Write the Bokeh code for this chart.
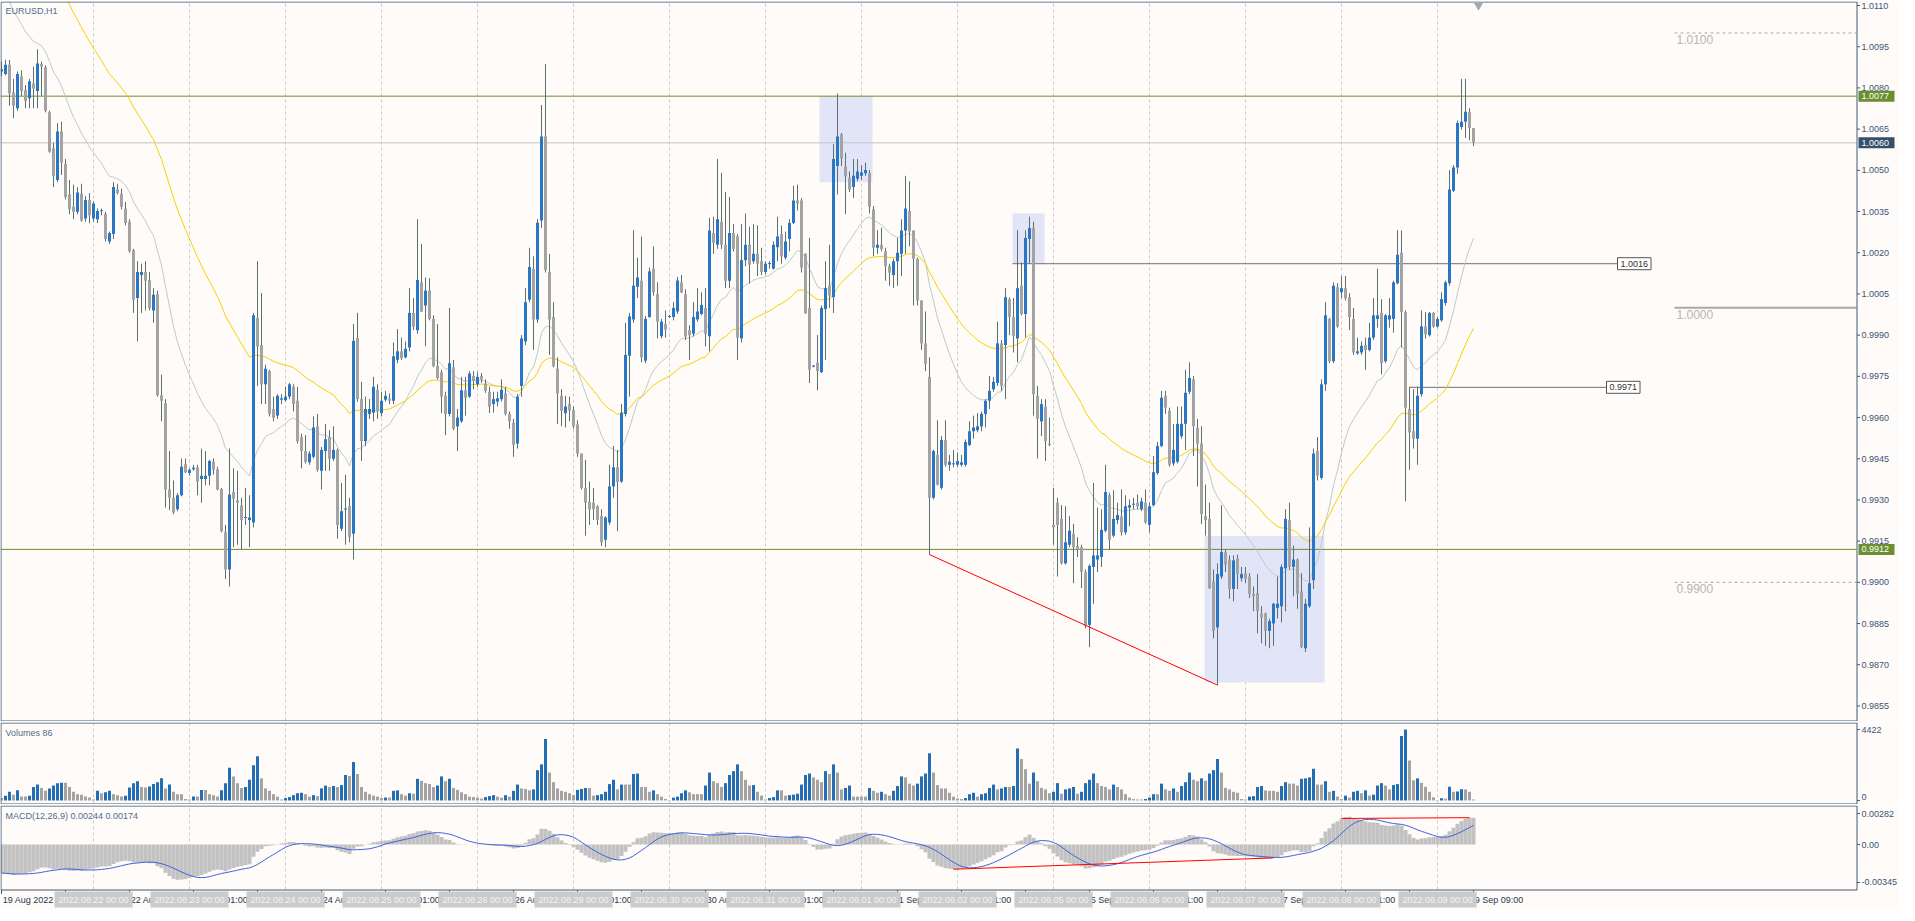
import numpy as np
import pandas as pd
from bokeh.plotting import figure
from bokeh.layouts import column
from bokeh.models import Range1d, Label
from bokeh.embed import file_html
from bokeh.resources import INLINE
from bokeh.core.properties import value

# ---------------- data (EURUSD H1) ----------------
opens = [1.00860,1.00851,1.00884,1.00783,1.00726,1.00842,1.00792,1.00762,1.00816,1.00789,1.00887,1.00875,1.00711,1.00580,1.00465,1.00641,1.00523,1.00412,1.00367,1.00349,1.00415,1.00325,1.00392,1.00325,1.00322,1.00351,1.00342,1.00241,1.00268,1.00430,1.00415,1.00361,1.00313,1.00209,1.00035,1.00119,1.00130,1.00101,0.99990,1.00049,0.99681,0.99652,0.99338,0.99308,0.99266,0.99317,0.99430,0.99398,0.99412,0.99419,0.99376,0.99376,0.99388,0.99439,0.99412,0.99340,0.99182,0.99047,0.99329,0.99299,0.99281,0.99234,0.99227,0.99218,0.99963,0.99864,0.99721,0.99769,0.99631,0.99607,0.99665,0.99663,0.99676,0.99712,
0.99661,0.99529,0.99478,0.99437,0.99457,0.99568,0.99406,0.99478,0.99529,0.99450,0.99482,0.99195,0.99266,0.99277,0.99177,0.99889,0.99667,0.99514,0.99613,0.99618,0.99701,0.99616,0.99665,0.99669,0.99661,0.99810,0.99841,0.99819,0.99855,0.99981,0.99918,1.00092,1.00008,1.00062,0.99959,0.99787,0.99765,0.99679,0.99613,0.99783,0.99568,0.99586,0.99699,0.99676,0.99751,0.99721,0.99751,0.99724,0.99694,0.99649,0.99658,0.99667,0.99688,0.99613,0.99581,0.99505,0.99715,0.99877,1.00029,1.00142,0.99957,1.00317,1.00623,1.00130,0.99966,0.99778,0.99679,0.99616,0.99649,0.99627,0.99575,0.99469,0.99344,0.99293,
0.99290,0.99277,0.99241,0.99155,0.99218,0.99349,0.99419,0.99367,0.99613,0.99825,0.99957,1.00076,1.00098,0.99807,0.99966,1.00142,1.00049,0.99896,0.99940,0.99966,0.99966,0.99986,1.00092,1.00049,0.99918,0.99905,0.99957,0.99977,0.99999,0.99896,1.00272,1.00229,1.00313,1.00229,1.00098,1.00272,1.00259,0.99888,1.00173,1.00229,1.00169,1.00196,1.00169,1.00130,1.00159,1.00142,1.00220,1.00268,1.00182,1.00250,1.00308,1.00390,1.00390,1.00196,0.99999,0.99785,0.99800,0.99765,0.99995,1.00080,1.00038,1.00516,1.00631,1.00514,1.00471,1.00439,1.00469,1.00480,1.00489,1.00489,1.00358,1.00218,1.00229,1.00205,
1.00151,1.00119,1.00169,1.00196,1.00281,1.00352,1.00281,1.00178,1.00026,0.99870,0.99748,0.99308,0.99464,0.99344,0.99518,0.99428,0.99430,0.99428,0.99428,0.99428,0.99500,0.99550,0.99554,0.99568,0.99613,0.99661,0.99703,0.99726,0.99870,0.99864,1.00031,0.99966,0.99888,1.00080,0.99977,1.00250,1.00290,0.99679,0.99586,0.99640,0.99505,0.99209,0.99290,0.99231,0.99069,0.99137,0.99177,0.99132,0.99128,0.99038,0.98845,0.99056,0.99083,0.99092,0.99188,0.99317,0.99170,0.99227,0.99240,0.99182,0.99272,0.99283,0.99290,0.99266,0.99290,0.99209,0.99281,0.99398,0.99496,0.99679,0.99625,0.99433,0.99439,0.99532,
0.99577,0.99694,0.99739,0.99563,0.99505,0.99241,0.99231,0.99003,0.98836,0.99021,0.99110,0.99083,0.98976,0.99087,0.99015,0.99033,0.99021,0.98958,0.98961,0.98886,0.98886,0.98823,0.98850,0.98907,0.98913,0.99051,0.99227,0.99056,0.99083,0.98967,0.98760,0.98913,0.99008,0.99478,0.99380,0.99721,0.99959,0.99805,1.00074,1.00056,1.00071,1.00038,0.99959,0.99834,0.99837,0.99864,0.99846,0.99891,0.99959,0.99981,0.99805,0.99957,0.99959,1.00089,1.00200,0.99984,0.99631,0.99550,0.99523,0.99685,0.99932,0.99900,0.99981,0.99931,0.99954,1.00017,1.00089,1.00426,1.00510,1.00658,1.00677,1.00711,1.00654]

highs = [1.00896,1.00902,1.00902,1.00833,1.00860,1.00864,1.00810,1.00833,1.00878,1.00941,1.00896,1.00882,1.00717,1.00600,1.00672,1.00677,1.00541,1.00465,1.00448,1.00439,1.00451,1.00406,1.00417,1.00388,1.00361,1.00361,1.00349,1.00277,1.00457,1.00451,1.00433,1.00385,1.00322,1.00214,1.00169,1.00160,1.00169,1.00130,1.00071,1.00062,0.99756,0.99667,0.99478,0.99371,0.99326,0.99451,0.99451,0.99415,0.99428,0.99428,0.99487,0.99478,0.99446,0.99451,0.99421,0.99344,0.99209,0.99487,0.99415,0.99406,0.99308,0.99344,0.99317,0.99981,1.00169,1.00053,0.99792,0.99774,0.99676,0.99685,0.99685,0.99712,0.99726,0.99721,
0.99712,0.99541,0.99536,0.99478,0.99604,0.99613,0.99493,0.99577,0.99554,0.99568,0.99487,0.99362,0.99392,0.99308,0.99940,0.99981,0.99730,0.99676,0.99667,0.99748,0.99721,0.99694,0.99697,0.99688,0.99873,0.99922,0.99891,0.99877,1.00071,1.00035,1.00322,1.00232,1.00110,1.00107,0.99972,0.99940,0.99774,0.99694,0.99999,0.99810,0.99631,0.99748,0.99748,0.99769,0.99769,0.99765,0.99762,0.99739,0.99712,0.99694,0.99694,0.99739,0.99712,0.99622,0.99595,0.99685,0.99900,1.00071,1.00218,1.00187,1.00322,1.00738,1.00887,1.00196,1.00020,0.99819,0.99703,0.99679,0.99676,0.99640,0.99590,0.99469,0.99446,0.99367,
0.99344,0.99281,0.99266,0.99241,0.99428,0.99496,0.99482,0.99649,0.99945,0.99981,1.00282,1.00182,1.00259,0.99970,1.00146,1.00223,1.00092,0.99959,0.99990,0.99974,1.00020,1.00112,1.00119,1.00067,0.99936,1.00020,1.00071,1.00056,1.00071,1.00327,1.00331,1.00541,1.00491,1.00421,1.00403,1.00304,1.00268,1.00304,1.00343,1.00295,1.00304,1.00300,1.00218,1.00169,1.00169,1.00241,1.00331,1.00299,1.00277,1.00322,1.00444,1.00448,1.00399,1.00198,1.00254,0.99791,0.99900,1.00008,1.00169,1.00229,1.00595,1.00780,1.00636,1.00564,1.00496,1.00541,1.00541,1.00519,1.00528,1.00501,1.00370,1.00282,1.00291,1.00218,
1.00160,1.00178,1.00254,1.00322,1.00480,1.00460,1.00282,1.00182,1.00026,0.99986,0.99819,0.99482,0.99590,0.99532,0.99590,0.99464,0.99482,0.99473,0.99464,0.99520,0.99586,0.99607,0.99616,0.99622,0.99667,0.99751,0.99748,0.99949,0.99882,1.00071,1.00038,1.00035,1.00282,1.00164,1.00281,1.00331,1.00313,0.99715,0.99667,0.99667,0.99600,0.99344,0.99308,0.99281,0.99277,0.99241,0.99213,0.99164,0.99137,0.99047,0.99065,0.99362,0.99272,0.99266,0.99428,0.99326,0.99335,0.99290,0.99338,0.99317,0.99302,0.99308,0.99320,0.99308,0.99338,0.99290,0.99460,0.99511,0.99697,0.99697,0.99636,0.99577,0.99640,0.99640,
0.99774,0.99801,0.99751,0.99595,0.99568,0.99356,0.99290,0.99047,0.99069,0.99281,0.99119,0.99098,0.99098,0.99101,0.99056,0.99056,0.99033,0.98985,0.99030,0.98913,0.98890,0.98868,0.98925,0.99021,0.99065,0.99266,0.99290,0.99134,0.99087,0.99033,0.98940,0.99200,0.99487,0.99529,0.99739,1.00020,0.99963,1.00092,1.00089,1.00115,1.00115,1.00053,0.99999,0.99891,0.99877,0.99891,0.99945,1.00035,1.00142,1.00031,0.99977,1.00035,1.00098,1.00282,1.00281,0.99990,0.99712,0.99703,0.99712,0.99990,0.99984,0.99984,0.99984,0.99966,1.00056,1.00098,1.00501,1.00519,1.00681,1.00833,1.00833,1.00726,1.00654]

lows = [1.00842,1.00846,1.00735,1.00690,1.00717,1.00771,1.00726,1.00726,1.00726,1.00726,1.00771,1.00711,1.00564,1.00439,1.00457,1.00483,1.00394,1.00340,1.00322,1.00340,1.00313,1.00313,1.00308,1.00313,1.00308,1.00336,1.00241,1.00232,1.00250,1.00412,1.00358,1.00300,1.00200,0.99981,0.99877,0.99981,0.99990,0.99990,0.99945,0.99676,0.99586,0.99272,0.99263,0.99248,0.99259,0.99313,0.99398,0.99388,0.99406,0.99317,0.99290,0.99353,0.99353,0.99392,0.99335,0.99182,0.99012,0.98985,0.99128,0.99137,0.99119,0.99209,0.99128,0.99200,0.99715,0.99649,0.99649,0.99604,0.99586,0.99595,0.99649,0.99658,0.99667,0.99622,
0.99505,0.99415,0.99433,0.99428,0.99451,0.99403,0.99338,0.99406,0.99406,0.99442,0.99159,0.99187,0.99137,0.99146,0.99083,0.99658,0.99442,0.99496,0.99595,0.99586,0.99595,0.99604,0.99658,0.99649,0.99649,0.99798,0.99810,0.99816,0.99841,0.99918,0.99905,0.99984,0.99859,0.99954,0.99783,0.99739,0.99616,0.99536,0.99604,0.99554,0.99478,0.99581,0.99607,0.99672,0.99703,0.99712,0.99726,0.99690,0.99616,0.99618,0.99640,0.99658,0.99607,0.99559,0.99457,0.99487,0.99676,0.99864,1.00020,0.99846,0.99945,1.00290,1.00128,0.99828,0.99783,0.99577,0.99568,0.99564,0.99586,0.99559,0.99457,0.99338,0.99170,0.99209,
0.99227,0.99209,0.99132,0.99128,0.99209,0.99308,0.99186,0.99362,0.99604,0.99676,0.99945,1.00035,0.99801,0.99798,0.99963,1.00044,0.99888,0.99888,0.99891,0.99963,0.99954,0.99977,1.00053,0.99882,0.99810,0.99895,0.99949,0.99972,0.99859,0.99841,1.00196,1.00214,1.00214,1.00071,1.00071,1.00205,0.99810,0.99873,1.00151,1.00088,1.00160,1.00115,1.00119,1.00121,1.00142,1.00139,1.00169,1.00160,1.00175,1.00205,1.00304,1.00354,1.00128,0.99977,0.99726,0.99783,0.99699,0.99762,0.99810,0.99999,0.99981,1.00412,1.00516,1.00340,1.00421,1.00399,1.00460,1.00465,1.00480,1.00343,1.00187,1.00196,1.00205,1.00098,
1.00080,1.00071,1.00080,1.00115,1.00196,1.00223,1.00008,1.00008,0.99846,0.99769,0.99101,0.99302,0.99353,0.99338,0.99421,0.99406,0.99419,0.99421,0.99421,0.99421,0.99496,0.99523,0.99546,0.99550,0.99564,0.99631,0.99694,0.99715,0.99697,0.99667,0.99900,0.99837,0.99801,0.99972,0.99891,1.00160,0.99607,0.99451,0.99532,0.99442,0.99496,0.99137,0.99021,0.99065,0.99065,0.99128,0.98997,0.99092,0.98979,0.98832,0.98764,0.98922,0.99038,0.99056,0.99182,0.99119,0.99164,0.99213,0.99170,0.99173,0.99204,0.99266,0.99266,0.99259,0.99213,0.99182,0.99277,0.99392,0.99493,0.99613,0.99421,0.99424,0.99433,0.99523,
0.99482,0.99685,0.99460,0.99349,0.99213,0.99170,0.98976,0.98796,0.98626,0.99012,0.99038,0.98940,0.98931,0.98976,0.99003,0.98997,0.98943,0.98895,0.98814,0.98778,0.98769,0.98760,0.98769,0.98868,0.98854,0.98895,0.99047,0.98949,0.98904,0.98760,0.98746,0.98907,0.98976,0.99371,0.99374,0.99697,0.99798,0.99798,0.99927,1.00035,1.00026,0.99918,0.99828,0.99828,0.99828,0.99774,0.99841,0.99882,0.99927,0.99757,0.99798,0.99927,0.99909,1.00085,0.99855,0.99295,0.99410,0.99487,0.99428,0.99676,0.99888,0.99895,0.99927,0.99927,0.99949,1.00008,1.00080,1.00421,1.00487,1.00649,1.00618,1.00609,1.00588]

closes = [1.00868,1.00884,1.00780,1.00735,1.00851,1.00789,1.00753,1.00824,1.00798,1.00889,1.00878,1.00717,1.00568,1.00478,1.00641,1.00528,1.00403,1.00358,1.00349,1.00419,1.00317,1.00392,1.00336,1.00379,1.00352,1.00354,1.00250,1.00272,1.00439,1.00417,1.00367,1.00308,1.00205,1.00029,1.00130,1.00130,1.00098,0.99999,1.00047,0.99681,0.99661,0.99338,0.99308,0.99254,0.99317,0.99421,0.99401,0.99410,0.99417,0.99367,0.99388,0.99388,0.99442,0.99410,0.99338,0.99186,0.99047,0.99320,0.99304,0.99290,0.99227,0.99238,0.99236,0.99972,0.99859,0.99721,0.99778,0.99613,0.99599,0.99679,0.99670,0.99676,0.99721,0.99649,
0.99514,0.99478,0.99439,0.99469,0.99564,0.99410,0.99482,0.99521,0.99450,0.99482,0.99209,0.99259,0.99268,0.99166,0.99879,0.99667,0.99514,0.99631,0.99631,0.99712,0.99622,0.99661,0.99679,0.99661,0.99823,0.99841,0.99816,0.99850,0.99981,0.99931,1.00101,0.99986,1.00062,0.99959,0.99787,0.99744,0.99676,0.99613,0.99798,0.99559,0.99600,0.99699,0.99672,0.99760,0.99733,0.99748,0.99739,0.99697,0.99640,0.99667,0.99670,0.99701,0.99613,0.99586,0.99500,0.99676,0.99888,1.00020,1.00148,0.99957,1.00309,1.00623,1.00137,0.99957,0.99787,0.99688,0.99625,0.99640,0.99625,0.99568,0.99469,0.99344,0.99290,0.99266,
0.99266,0.99227,0.99146,0.99236,0.99349,0.99419,0.99365,0.99618,0.99828,0.99968,1.00080,1.00110,0.99819,0.99959,1.00132,1.00056,0.99949,0.99949,0.99920,0.99970,0.99999,1.00099,1.00056,0.99895,0.99900,0.99966,0.99986,1.00010,0.99905,1.00281,1.00236,1.00322,1.00229,1.00098,1.00272,1.00214,0.99891,1.00173,1.00229,1.00157,1.00196,1.00160,1.00130,1.00160,1.00162,1.00229,1.00259,1.00187,1.00241,1.00308,1.00390,1.00379,1.00146,0.99981,0.99774,0.99789,0.99769,0.99999,1.00071,1.00044,1.00541,1.00623,1.00543,1.00478,1.00430,1.00480,1.00496,1.00492,1.00501,1.00367,1.00218,1.00229,1.00214,1.00151,
1.00128,1.00169,1.00200,1.00281,1.00361,1.00277,1.00178,1.00026,0.99870,0.99796,0.99308,0.99478,0.99356,0.99518,0.99428,0.99439,0.99433,0.99441,0.99437,0.99511,0.99550,0.99564,0.99568,0.99613,0.99661,0.99697,0.99730,0.99870,0.99715,1.00038,0.99966,0.99896,1.00071,0.99977,1.00254,1.00290,0.99685,0.99595,0.99649,0.99514,0.99500,0.99200,0.99209,0.99069,0.99146,0.99188,0.99128,0.99119,0.99038,0.98841,0.99060,0.99098,0.99098,0.99191,0.99329,0.99155,0.99231,0.99245,0.99182,0.99277,0.99281,0.99286,0.99277,0.99295,0.99218,0.99277,0.99401,0.99496,0.99672,0.99636,0.99428,0.99482,0.99577,0.99577,
0.99690,0.99744,0.99568,0.99505,0.99249,0.99227,0.98979,0.98823,0.99030,0.99110,0.99065,0.98976,0.99080,0.99030,0.99030,0.99012,0.98958,0.98949,0.98895,0.98872,0.98823,0.98859,0.98922,0.98922,0.99056,0.99231,0.99056,0.99083,0.98958,0.98764,0.98922,0.98997,0.99469,0.99389,0.99721,0.99972,0.99805,1.00080,0.99931,1.00071,1.00035,0.99966,0.99837,0.99841,0.99861,0.99846,0.99891,0.99972,0.99972,0.99798,0.99972,0.99972,1.00092,1.00193,0.99984,0.99636,0.99546,0.99523,0.99679,0.99932,0.99904,0.99981,0.99931,0.99959,1.00031,1.00092,1.00430,1.00510,1.00672,1.00677,1.00713,1.00654,1.00600]

volumes = [150,300,540,360,630,240,240,300,840,990,780,600,750,930,1080,1110,1110,840,540,390,360,240,180,60,600,450,510,600,390,330,240,300,810,1080,1200,840,810,870,1020,1140,1380,750,990,540,390,390,90,60,240,240,660,660,390,330,240,630,1080,2040,1500,1080,780,840,1290,2190,2760,1380,750,600,390,240,60,150,210,330,
450,480,390,240,330,270,750,930,840,900,840,960,1590,1530,2400,1650,840,540,390,300,240,150,180,180,600,630,390,300,450,420,1350,1230,1080,1020,840,930,1500,1200,1350,780,660,510,390,240,210,180,120,210,270,330,240,180,330,240,600,990,750,720,630,690,1890,2250,3840,1740,1140,750,600,540,450,330,660,720,780,780,
300,330,390,540,1020,1290,690,990,990,990,1650,1680,840,840,540,630,390,240,90,30,180,240,450,630,510,390,390,390,930,1740,1200,1080,840,1080,1590,1830,2250,1830,1290,930,960,540,300,60,150,210,630,630,300,330,360,420,990,1590,1680,1440,1290,1140,1830,1650,2250,1740,690,780,930,240,240,240,240,780,600,480,540,390,
300,600,900,1500,1440,1050,930,1050,1500,1680,2940,1740,960,750,750,480,240,120,90,150,390,480,240,390,450,780,990,690,750,840,840,900,3240,2580,1950,1050,1740,1200,780,690,450,540,1080,420,690,750,840,420,540,1080,1290,1680,1080,900,840,690,990,840,690,390,180,90,60,60,90,180,390,390,1050,690,600,750,540,900,
1140,1740,1290,1200,1380,1230,1680,1890,2580,1740,780,690,540,480,90,60,240,270,840,900,630,600,600,540,900,1140,1050,1050,930,1350,1380,1440,1980,990,990,1200,540,600,240,90,300,180,540,600,450,630,300,360,930,1080,930,690,960,1020,4025,4422,2494,1255,1375,1094,855,538,197,30,140,110,855,540,560,700,690,540,60]

trading_days = ["2022.08.22", "2022.08.23", "2022.08.24", "2022.08.25", "2022.08.26",
                "2022.08.29", "2022.08.30", "2022.08.31", "2022.09.01", "2022.09.02",
                "2022.09.05", "2022.09.06", "2022.09.07", "2022.09.08", "2022.09.09"]
first_day_bars = 23          # bars of 19 Aug shown before 22 Aug 00:00
bars_per_day = 24

price_ticks = [0.9855, 0.9870, 0.9885, 0.9900, 0.9915, 0.9930, 0.9945, 0.9960, 0.9975,
               0.9990, 1.0005, 1.0020, 1.0035, 1.0050, 1.0065, 1.0080, 1.0095, 1.0110]
volume_ticks = [4422, 0]
volume_tick_labels = ["4422", "0"]
macd_ticks = [0.00282, 0.0, -0.00345]
macd_tick_labels = ["0.00282", "0.00", "-0.00345"]
time_tick_bars = [0, 16, 32, 48, 64, 80, 96, 112, 128, 144, 160, 176, 192, 208, 224, 240,
                  256, 272, 288, 304, 320, 336, 352, 368]
time_tick_labels = ["19 Aug 2022", "19 Aug 17:00", "22 Aug 09:00", "23 Aug 01:00", "23 Aug 17:00",
                    "24 Aug 09:00", "25 Aug 01:00", "25 Aug 17:00", "26 Aug 09:00", "29 Aug 01:00",
                    "29 Aug 17:00", "30 Aug 09:00", "31 Aug 01:00", "31 Aug 17:00", "1 Sep 09:00",
                    "2 Sep 01:00", "2 Sep 17:00", "5 Sep 09:00", "6 Sep 01:00", "6 Sep 17:00",
                    "7 Sep 09:00", "8 Sep 01:00", "8 Sep 17:00", "9 Sep 09:00"]

# levels / drawings
support_resistance = [1.0077, 0.9912]
last_price = 1.0060
seg_levels = [1.0016, 0.9971]
seg_start_bar = [252.75, 352.0]
seg_end_bar = [404.0, 401.25]
round_levels = [1.0100, 1.0000, 0.9900]
round_dashed = [True, False, True]
round_start_bar = 418.25
boxes_left = [204.5, 252.75, 300.75]
boxes_right = [217.75, 260.75, 330.75]
boxes_bottom = [1.00457, 1.00160, 0.98635]
boxes_top = [1.00769, 1.00343, 0.99169]
price_trend_bars = [232, 304]
macd_low_bars = [238, 318]
macd_high_bars = [335, 367]
macd_legend_values = [0.00244, 0.00174]

# indicator start values (at first bar)
ema_fast_start, ema_slow_start = 1.0121, 1.0155     # EMA20 (grey) / EMA50 (yellow)
macd_ema12_start, macd_ema26_start = 1.0122, 1.0147

# ---------------- derived ----------------
o = np.array(opens); h = np.array(highs); l = np.array(lows); c = np.array(closes)
v = np.array(volumes, dtype=float)
n = len(c)
idx = np.arange(n)


def ema(vals, period, start):
    a = 2.0 / (period + 1.0)
    out = np.empty(len(vals))
    prev = start
    for k, x in enumerate(vals):
        prev = prev + a * (x - prev)
        out[k] = prev
    return out


ema20 = ema(c, 20, ema_fast_start)
ema50 = ema(c, 50, ema_slow_start)
macd = ema(c, 12, macd_ema12_start) - ema(c, 26, macd_ema26_start)
signal = pd.Series(macd).rolling(9, min_periods=1).mean().values

# ---------------- style / layout ----------------
BG = "#fffbf9"
FRAME = "#3f5a74"
AX_TXT = "#3a5676"
BULL = "#2a76c6"
BEAR = "#a3a3a3"
WICK = "#5b7070"
VOL_UP = "#226db3"
FONT = "Liberation Sans"
FS = "9px"

FULL_W = 1899
CHART_W = 1856
MAIN_H, VOL_H, MACD_H, STRIP_H = 718, 80, 83, 20
x_lo = -0.25
x_edge = x_lo + CHART_W / 4.0
x_hi = x_lo + FULL_W / 4.0
xr = Range1d(x_lo, x_hi)
lab_dx = 1.25   # 5 px right of the axis line

p_lo, p_hi = 0.98497, 1.01111
v_lo, v_hi = -190.0, 4801.0
m_lo, m_hi = -0.00409, 0.00346
day_x = [first_day_bars + bars_per_day * d for d in range(len(trading_days))]


def make_panel(content_h, y0, y1, extra_px=0, gap=0):
    px = (y1 - y0) / content_h
    p = figure(frame_width=FULL_W, frame_height=content_h + 2 + extra_px,
               x_range=xr, y_range=Range1d(y0 - px * (1 + extra_px), y1 + px),
               x_axis_location=None, y_axis_location=None,
               output_backend="svg", toolbar_location=None,
               min_border_left=0, min_border_right=0, min_border_top=gap, min_border_bottom=0,
               background_fill_color=BG, border_fill_color=BG, outline_line_color=None)
    p.grid.visible = False
    p.segment(x0=day_x, y0=[y0] * len(day_x), x1=day_x, y1=[y1] * len(day_x),
              line_color="#cacaca", line_dash="3 3", line_width=1)
    return p, px


def frame_and_axis(p, y0, y1, px, ticks, labels, bottom_label_up=False):
    yt = y1 + 0.5 * px
    yb = y0 - 0.5 * px
    xl = x_lo + 0.125
    xe = x_edge + 0.125
    p.segment(x0=[xl, xe, xl, xl], y0=[yb, yb, yt, yb], x1=[xl, xe, xe, xe], y1=[yt, yt, yt, yb],
              line_color=FRAME, line_width=1)
    p.segment(x0=[xe] * len(ticks), y0=ticks, x1=[xe + 0.75] * len(ticks), y1=ticks,
              line_color=FRAME, line_width=1)
    k = len(ticks) - 1 if bottom_label_up else len(ticks)
    p.text(x=[x_edge + lab_dx] * k, y=ticks[:k], text=labels[:k],
           text_font=value(FONT), text_font_size=FS, text_color=AX_TXT,
           text_baseline="middle", text_align="left")
    if bottom_label_up:
        p.text(x=[x_edge + lab_dx], y=[ticks[-1]], text=[labels[-1]],
               text_font=value(FONT), text_font_size=FS, text_color=AX_TXT,
               text_baseline="bottom", text_align="left")


# ---------------- main price panel ----------------
pm, px_p = make_panel(MAIN_H, p_lo, p_hi, gap=1)

pm.quad(left=boxes_left, right=boxes_right, bottom=boxes_bottom, top=boxes_top,
        fill_color="#e2e5f8", line_color=None)
pm.segment(x0=[x_lo] * 2, y0=support_resistance, x1=[x_edge] * 2, y1=support_resistance,
           line_color="#6b8e2f", line_width=1)
pm.segment(x0=[x_lo], y0=[last_price], x1=[x_edge], y1=[last_price], line_color="#c4c4c4", line_width=1)

pm.segment(x0=seg_start_bar, y0=seg_levels, x1=seg_end_bar, y1=seg_levels, line_color="#707070", line_width=1)
for lv, dashed in zip(round_levels, round_dashed):
    pm.segment(x0=[round_start_bar], y0=[lv], x1=[x_edge], y1=[lv], line_color="#a9a9a9",
               line_width=(1 if dashed else 2), line_dash=("3 3" if dashed else "solid"))
    pm.text(x=[round_start_bar + 0.5], y=[lv - 2 * px_p], text=["%.4f" % lv],
            text_font=value(FONT), text_font_size="12px", text_color="#b5b5b5",
            text_baseline="top", text_align="left")

pm.line(idx, ema20, line_color="#b9cccc", line_width=1)
pm.line(idx, ema50, line_color="#f7d000", line_width=1)

pm.segment(x0=idx, y0=h, x1=idx, y1=l, line_color=WICK, line_width=1)
body_top = np.maximum(o, c)
body_bot = np.minimum(o, c)
thin = (body_top - body_bot) < px_p
mid = (body_top + body_bot) / 2
body_top = np.where(thin, mid + px_p / 2, body_top)
body_bot = np.where(thin, mid - px_p / 2, body_bot)
candle_col = np.where(c >= o, BULL, BEAR)
pm.vbar(x=idx, width=0.75, top=body_top, bottom=body_bot, fill_color=list(candle_col), line_color=None)

pm.segment(x0=[price_trend_bars[0]], y0=[l[price_trend_bars[0]]], x1=[price_trend_bars[1]],
           y1=[l[price_trend_bars[1]]], line_color="#ff0000", line_width=1)

for lv, e in zip(seg_levels, seg_end_bar):
    pm.add_layout(Label(x=e, y=lv, text="%.4f" % lv, text_font=FONT, text_font_size=FS,
                        text_color="#333333", text_baseline="middle", text_align="left",
                        background_fill_color="#ffffff", border_line_color="#555555", padding=3))

pm.scatter(x=[n + 0.25], y=[p_hi - 3 * px_p], marker="inverted_triangle", size=9,
           fill_color="#a8a8a8", line_color=None)

pm.add_layout(Label(x=x_lo + 1.25, y=p_hi - 3 * px_p, text="EURUSD,H1", text_font=FONT,
                    text_font_size=FS, text_color="#4f6d8c", text_baseline="top"))

frame_and_axis(pm, p_lo, p_hi, px_p, price_ticks, ["%.4f" % t for t in price_ticks])

tag_levels = [support_resistance[0], last_price, support_resistance[1]]
tag_colors = ["#6b8e2f", "#34506c", "#6b8e2f"]
pm.rect(x=[x_edge + 5.0] * 3, y=tag_levels, width=9.0, height=11 * px_p, fill_color=tag_colors,
        line_color=None)
pm.text(x=[x_edge + lab_dx] * 3, y=tag_levels, text=["%.4f" % t for t in tag_levels],
        text_font=value(FONT), text_font_size=FS, text_color="#ffffff",
        text_baseline="middle", text_align="left")

# ---------------- volume panel ----------------
pv, px_v = make_panel(VOL_H, v_lo, v_hi, gap=1)
vol_col = [BEAR] + [VOL_UP if v[k] > v[k - 1] else BEAR for k in range(1, n)]
pv.vbar(x=idx, width=0.75, top=v, bottom=0, fill_color=vol_col, line_color=None)
pv.add_layout(Label(x=x_lo + 1.25, y=v_hi - 4 * px_v, text="Volumes 86", text_font=FONT,
                    text_font_size=FS, text_color="#4f6d8c", text_baseline="top"))
frame_and_axis(pv, v_lo, v_hi, px_v, volume_ticks, volume_tick_labels, bottom_label_up=True)

# ---------------- MACD panel (with time strip below) ----------------
pc, px_m = make_panel(MACD_H, m_lo, m_hi, extra_px=STRIP_H, gap=1)
pc.vbar(x=idx, width=1.0, top=np.maximum(macd, 0), bottom=np.minimum(macd, 0),
        fill_color="#c2c2c2", line_color=None)
pc.line(idx, signal, line_color="#3a62dc", line_width=1)
pc.segment(x0=[macd_low_bars[0], macd_high_bars[0]], y0=[macd[macd_low_bars[0]], macd[macd_high_bars[0]]],
           x1=[macd_low_bars[1], macd_high_bars[1]], y1=[macd[macd_low_bars[1]], macd[macd_high_bars[1]]],
           line_color="#ff0000", line_width=1)
pc.add_layout(Label(x=x_lo + 1.25, y=m_hi - 4 * px_m,
                    text="MACD(12,26,9) %.5f %.5f" % tuple(macd_legend_values), text_font=FONT,
                    text_font_size=FS, text_color="#4f6d8c", text_baseline="top"))
frame_and_axis(pc, m_lo, m_hi, px_m, macd_ticks, macd_tick_labels)

# time axis strip
pc.segment(x0=time_tick_bars, y0=[m_lo - 0.5 * px_m] * len(time_tick_bars),
           x1=time_tick_bars, y1=[m_lo - 4.5 * px_m] * len(time_tick_bars), line_color=FRAME, line_width=1)
pc.text(x=[t + 0.3 for t in time_tick_bars], y=[m_lo - 10 * px_m] * len(time_tick_bars),
        text=time_tick_labels, text_font=value(FONT), text_font_size=FS, text_color="#22384f",
        text_baseline="middle", text_align="left")
pc.rect(x=day_x, y=[m_lo - 10 * px_m] * len(day_x), width=19.5, height=16 * px_m,
        fill_color="#cbcbcb", line_color=None)
pc.text(x=day_x, y=[m_lo - 10 * px_m] * len(day_x), text=[d + " 00:00" for d in trading_days],
        text_font=value(FONT), text_font_size=FS, text_color="#f4f4f4",
        text_baseline="middle", text_align="center")

layout = column(pm, pv, pc, spacing=0)
open("out.html", "w").write(file_html(layout, INLINE, "EURUSD,H1"))
